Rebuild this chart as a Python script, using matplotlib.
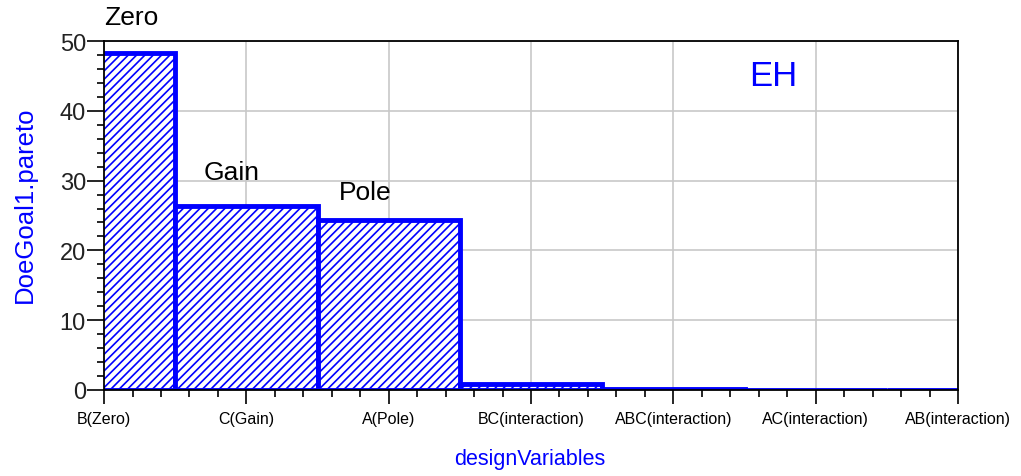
import matplotlib
matplotlib.use('Agg')
import matplotlib.pyplot as plt
from matplotlib.ticker import MultipleLocator

plt.rcParams['font.family'] = ['Liberation Sans', 'DejaVu Sans']
plt.rcParams['hatch.linewidth'] = 1.2

# dados
variaveis = ['B(Zero)', 'C(Gain)', 'A(Pole)', 'BC(interaction)',
             'ABC(interaction)', 'AC(interaction)', 'AB(interaction)']
pareto = [48.3, 26.4, 24.4, 0.9, 0.1, 0.05, 0.03]

rotulos = ['Zero', 'Gain', 'Pole']
rotulos_x = [0.0, 0.70, 1.65]
rotulos_y = [53.4, 31.2, 28.4]

azul = '#0000FF'

fig = plt.figure(figsize=(10.21, 4.77), dpi=100)
ax = fig.add_axes([0.1019, 0.1803, 0.8364, 0.7316])

pos = list(range(len(variaveis)))
ax.bar(pos, pareto, width=1.0, facecolor='white', edgecolor=azul,
       hatch='////', linewidth=3.5, zorder=3)

ax.set_xlim(0, len(variaveis) - 1)
ax.set_ylim(0, 50)
ax.set_xticks(pos)
ax.set_xticklabels(variaveis, fontsize=11.5)
ax.xaxis.set_minor_locator(MultipleLocator(0.2))
ax.yaxis.set_major_locator(MultipleLocator(10))
ax.yaxis.set_minor_locator(MultipleLocator(2))

ax.tick_params(axis='y', which='major', length=12, width=1.2, labelsize=17,
               labelcolor='#222222', pad=1)
ax.tick_params(axis='y', which='minor', length=5, width=1.2)
ax.tick_params(axis='x', which='major', length=10, width=1.2, pad=5)
ax.tick_params(axis='x', which='minor', length=5, width=1.2)

ax.grid(True, which='major', color='#c8c8c8', linewidth=1.2, zorder=0)
ax.set_axisbelow(True)
for lado in ax.spines.values():
    lado.set_color('black')
    lado.set_linewidth(1.3)
    lado.set_zorder(4)

for txt, xx, yy in zip(rotulos, rotulos_x, rotulos_y):
    ax.text(xx, yy, txt, fontsize=19, va='center', ha='left',
            clip_on=False, zorder=5)

ax.text(4.53, 45.0, 'EH', fontsize=25, color=azul, va='center', ha='left')

fig.text(25 / 1021, 1 - 205 / 477, 'DoeGoal1.pareto', color=azul,
         fontsize=18.5, rotation=90, ha='center', va='center')
fig.text(530 / 1021, 1 - 460 / 477, 'designVariables', color=azul,
         fontsize=15.5, ha='center', va='center')

fig.savefig('out.png', dpi=100)
